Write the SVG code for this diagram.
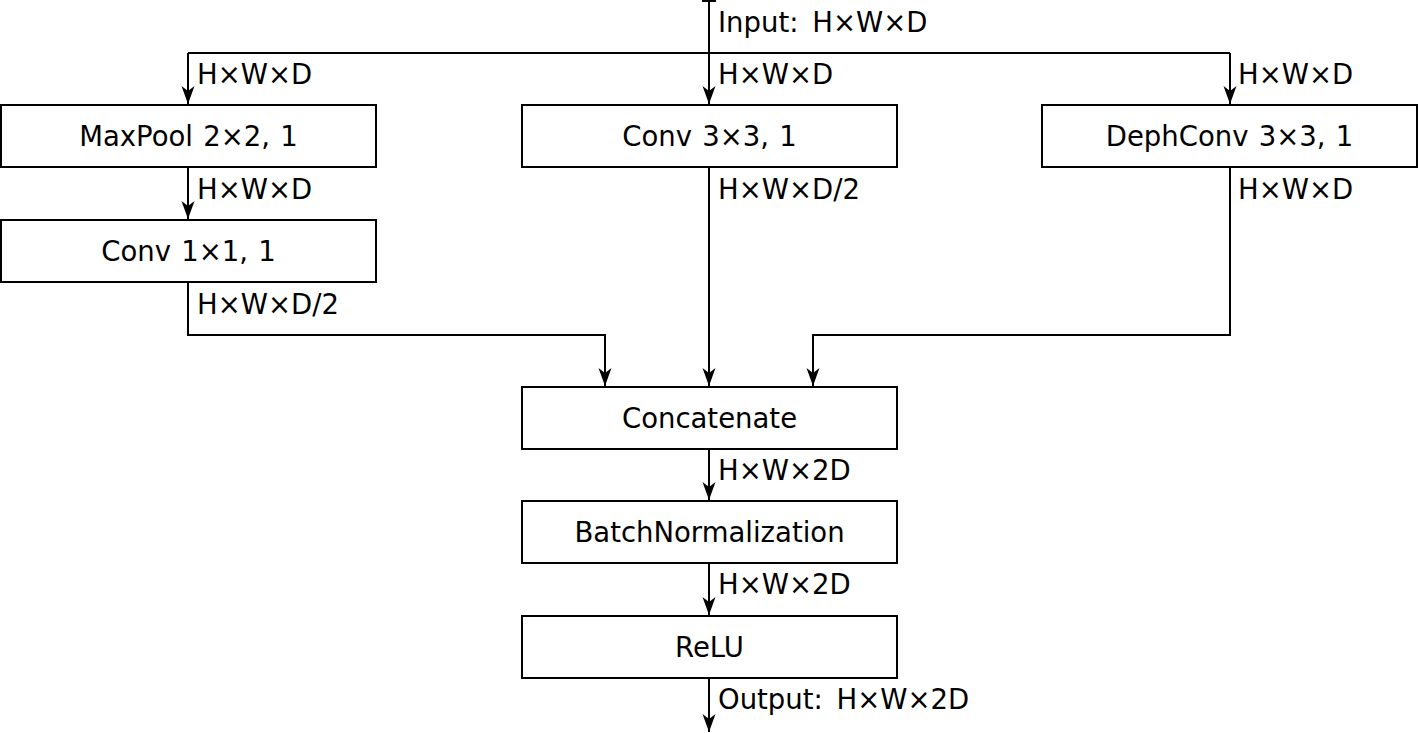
<svg xmlns="http://www.w3.org/2000/svg" width="1419" height="733" viewBox="0 0 1419 733">
<style>
.box{fill:#fff;stroke:#000;stroke-width:2}
.t{font-family:"DejaVu Sans",sans-serif;font-size:27.5px;fill:#000;word-spacing:5px}
.c{text-anchor:middle;word-spacing:1.5px}
.ln{fill:none;stroke:#000;stroke-width:2}
</style>
<defs>
<marker id="ah" markerUnits="userSpaceOnUse" markerWidth="20" markerHeight="16" refX="18" refY="8" orient="auto">
<path d="M0,1.5 L18,8 L0,14.5 L5,8 Z" fill="#000"/>
</marker>
</defs>
<rect width="1419" height="733" fill="#fff"/>
<g id="connectors">
<line class="ln" x1="702" y1="1" x2="716" y2="1"/>
<line class="ln" x1="709" y1="0" x2="709" y2="104" marker-end="url(#ah)"/>
<line class="ln" x1="188" y1="53" x2="1230" y2="53"/>
<polyline class="ln" points="188,53 188,104" marker-end="url(#ah)"/>
<polyline class="ln" points="1230,53 1230,104" marker-end="url(#ah)"/>
<line class="ln" x1="188" y1="167" x2="188" y2="219" marker-end="url(#ah)"/>
<polyline class="ln" points="188,282 188,335 605,335 605,386" marker-end="url(#ah)"/>
<line class="ln" x1="709" y1="167" x2="709" y2="386" marker-end="url(#ah)"/>
<polyline class="ln" points="1230,167 1230,335 813,335 813,386" marker-end="url(#ah)"/>
<line class="ln" x1="709" y1="449" x2="709" y2="500" marker-end="url(#ah)"/>
<line class="ln" x1="709" y1="563" x2="709" y2="615" marker-end="url(#ah)"/>
<line class="ln" x1="709" y1="678" x2="709" y2="732" marker-end="url(#ah)"/>
</g>
<g id="labels">
<text class="t" x="718" y="32">Input: H×W×D</text>
<text class="t" x="197" y="84">H×W×D</text>
<text class="t" x="718" y="84">H×W×D</text>
<text class="t" x="1238" y="84">H×W×D</text>
<text class="t" x="197" y="199">H×W×D</text>
<text class="t" x="718" y="199">H×W×D/2</text>
<text class="t" x="1238" y="199">H×W×D</text>
<text class="t" x="197" y="314">H×W×D/2</text>
<text class="t" x="718" y="480">H×W×2D</text>
<text class="t" x="718" y="594">H×W×2D</text>
<text class="t" x="718" y="709">Output: H×W×2D</text>
</g>
<g id="maxpool"><rect class="box" x="1" y="105" width="375" height="62"/><text class="t c" x="188.5" y="146">MaxPool 2×2, 1</text></g>
<g id="conv3"><rect class="box" x="522" y="105" width="375" height="62"/><text class="t c" x="709.5" y="146">Conv 3×3, 1</text></g>
<g id="dephconv"><rect class="box" x="1042" y="105" width="375" height="62"/><text class="t c" x="1229.5" y="146">DephConv 3×3, 1</text></g>
<g id="conv1"><rect class="box" x="1" y="220" width="375" height="62"/><text class="t c" x="188.5" y="261">Conv 1×1, 1</text></g>
<g id="concat"><rect class="box" x="522" y="387" width="375" height="62"/><text class="t c" x="709.5" y="428">Concatenate</text></g>
<g id="bn"><rect class="box" x="522" y="501" width="375" height="62"/><text class="t c" x="709.5" y="542">BatchNormalization</text></g>
<g id="relu"><rect class="box" x="522" y="616" width="375" height="62"/><text class="t c" x="709.5" y="657">ReLU</text></g>
</svg>
